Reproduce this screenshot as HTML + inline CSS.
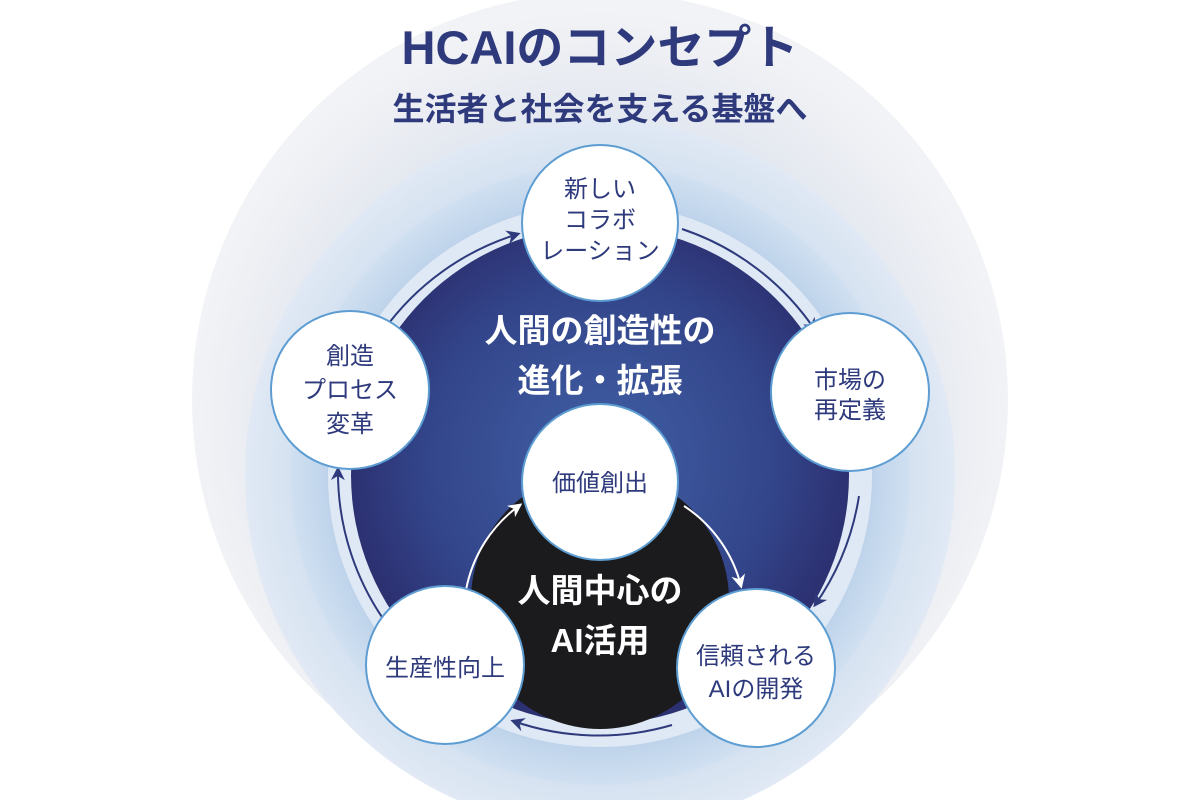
<!DOCTYPE html>
<html><head><meta charset="utf-8"><style>
html,body{margin:0;padding:0;background:#fff;}
svg{display:block}
text{font-family:"Liberation Sans","Noto Sans CJK JP",sans-serif}
.b{font-weight:bold}
</style></head><body>
<svg width="1200" height="800" viewBox="0 0 1200 800" xmlns="http://www.w3.org/2000/svg">
<defs>
<radialGradient id="og" cx="600" cy="420" r="410" gradientUnits="userSpaceOnUse">
<stop offset="0.75" stop-color="#e4e8f0"/><stop offset="1" stop-color="#f2f3f6"/></radialGradient>
<radialGradient id="r2" cx="600" cy="475" r="355" gradientUnits="userSpaceOnUse">
<stop offset="0.7" stop-color="#c8d9ed"/><stop offset="1" stop-color="#e0e9f4"/></radialGradient>
<radialGradient id="r3" cx="600" cy="475" r="310" gradientUnits="userSpaceOnUse">
<stop offset="0.8" stop-color="#b3cbe6"/><stop offset="1" stop-color="#d0e0f1"/></radialGradient>
<radialGradient id="dk" cx="600" cy="460" r="250" gradientUnits="userSpaceOnUse">
<stop offset="0" stop-color="#4160a6"/><stop offset="0.7" stop-color="#33458a"/><stop offset="1" stop-color="#2c3172"/></radialGradient>
<marker id="ad" viewBox="0 0 10 10" refX="8" refY="5" markerWidth="7" markerHeight="7" orient="auto"><path d="M0,0 L10,5 L0,10 L3,5 z" fill="#2e3a7c"/></marker>
<marker id="aw" viewBox="0 0 10 10" refX="8" refY="5" markerWidth="7" markerHeight="7" orient="auto"><path d="M0,0 L10,5 L0,10 L3,5 z" fill="#fff"/></marker>
</defs>
<circle cx="600" cy="400" r="408" fill="url(#og)"/>
<circle cx="600" cy="475" r="355" fill="url(#r2)"/>
<circle cx="600" cy="475" r="310" fill="url(#r3)"/>
<circle cx="600" cy="475" r="272" fill="#dfe9f5"/>
<circle cx="600" cy="475" r="249" fill="url(#dk)"/>
<circle cx="600" cy="600" r="129" fill="#1b1b1e"/>
<g fill="none" stroke="#2e3a7c" stroke-width="2">
<path d="M383,331 A260,260 0 0 1 518,234" marker-end="url(#ad)"/>
<path d="M682,229 A260,260 0 0 1 815,330" marker-end="url(#ad)"/>
<path d="M859,496 A260,260 0 0 1 815,605" marker-end="url(#ad)"/>
<path d="M672,725 A260,260 0 0 1 513,721" marker-end="url(#ad)"/>
<path d="M392,631 A260,260 0 0 1 338,469" marker-end="url(#ad)"/>
</g>
<g fill="none" stroke="#fff" stroke-width="2">
<path d="M466,590 A135,135 0 0 1 520,505" marker-end="url(#aw)"/>
<path d="M684,506 A135,135 0 0 1 741,586" marker-end="url(#aw)"/>
</g>
<g fill="#fff" stroke="#5d9dd2" stroke-width="2">
<circle cx="600" cy="223" r="78"/>
<circle cx="850" cy="392" r="79"/>
<circle cx="350" cy="390" r="79"/>
<circle cx="445" cy="665" r="79"/>
<circle cx="756" cy="668" r="79"/>
<circle cx="600" cy="482" r="78"/>
</g>
<text class="b" x="600" y="64" text-anchor="middle" font-size="47" fill="#2e3a7c">HCAIのコンセプト</text>
<text class="b" x="600" y="120" text-anchor="middle" font-size="32" fill="#2e3a7c">生活者と社会を支える基盤へ</text>
<g font-size="24" fill="#2e3a7c" text-anchor="middle">
<text x="600" y="197">新しい</text>
<text x="600" y="228">コラボ</text>
<text x="600" y="259">レーション</text>
<text x="850" y="388">市場の</text>
<text x="850" y="418">再定義</text>
<text x="350" y="364">創造</text>
<text x="350" y="398">プロセス</text>
<text x="350" y="432">変革</text>
<text x="445" y="676">生産性向上</text>
<text x="756" y="664">信頼される</text>
<text x="756" y="697">AIの開発</text>
<text x="600" y="491">価値創出</text>
</g>
<g class="b" font-size="33" fill="#fff" text-anchor="middle">
<text x="600" y="342">人間の創造性の</text>
<text x="600" y="392">進化・拡張</text>
<text x="600" y="602">人間中心の</text>
<text x="600" y="652">AI活用</text>
</g>
</svg>
</body></html>
